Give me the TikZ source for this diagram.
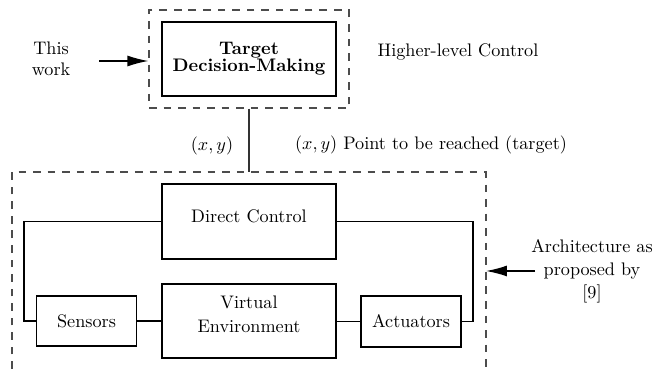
\documentclass[tikz,border=0pt]{standalone}
\usetikzlibrary{arrows.meta}
\begin{document}
\begin{tikzpicture}[x=0.55pt,y=-0.55pt,
  blk/.style={draw, line width=0.6pt, inner sep=0pt, align=center, font=\fontsize{10}{12}\selectfont},
  frame/.style={draw=black!70, line width=0.7pt, dash pattern=on 4.2pt off 3.8pt},
  wire/.style={line width=0.6pt},
  arr/.style={line width=0.7pt, -{Latex[length=11.5pt,width=6pt]}},
  lbl/.style={inner sep=0pt, align=center, font=\fontsize{10}{12}\selectfont}]
\useasboundingbox (0,0) rectangle (654,369);

% top part
\node[frame, inner sep=0pt, minimum width={200*0.55pt}, minimum height={98*0.55pt}] (tf) at (249,59) {};
\node[blk, minimum width={174*0.55pt}, minimum height={74*0.55pt},
      font=\bfseries\fontsize{10}{9.5}\selectfont] (tdm) at (249,59) {Target\\Decision-Making};
\node[lbl, font=\fontsize{10}{11.5}\selectfont] (tw) at (51,59) {This\\work};
\node[lbl] (hlc) at (458,52) {Higher-level Control};
\coordinate (twt) at (99,61);
\draw[arr] (twt) -- (twt -| tf.west);

% labels between
\node[lbl] (xy1) at (212,146) {$(x,y)$};
\node[lbl] (xy2) at (431,145) {$(x,y)$ Point to be reached (target)};

% lower frame
\coordinate (lfbl) at (12,369);
\coordinate (lftl) at (12,172);
\coordinate (lftr) at (486,172);
\coordinate (lfbr) at (486,369);
\draw[frame] (lfbl) -- (lftl) -- (lftr) -- (lfbr);
\draw[line width=0.7pt, black!80] (tf.south) -- (tf.south |- lftl);

% boxes
\node[blk, minimum width={174*0.55pt}, minimum height={75*0.55pt}] (dc) at (249,221.5) {};
\node[lbl] (dct) at (249,216.5) {Direct Control};
\node[blk, minimum width={174*0.55pt}, minimum height={74*0.55pt}] (ve) at (249,321) {};
\node[lbl, font=\fontsize{10}{13}\selectfont] (vet) at (249,314.5) {Virtual\\Environment};
\node[blk, minimum width={100*0.55pt}, minimum height={50*0.55pt}] (sen) at (86.5,321) {Sensors};
\node[blk, minimum width={100*0.55pt}, minimum height={51*0.55pt}] (act) at (411,321.5) {Actuators};

% connectors
\draw[wire] (dc.west) -- (24,221.5) |- (sen.west);
\draw[wire] (sen.east) -- (sen.east -| ve.west);
\draw[wire] (ve.east |- act.west) -- (act.west);
\draw[wire] (act.east) -- (473,321.5) |- (dc.east);

% right annotation
\node[lbl, font=\fontsize{10}{12.6}\selectfont] (arch) at (592,271) {Architecture as\\proposed by\\{[9]}};
\coordinate (arct) at (535,271);
\draw[arr] (arct) -- (arct -| lftr);
\end{tikzpicture}
\end{document}
